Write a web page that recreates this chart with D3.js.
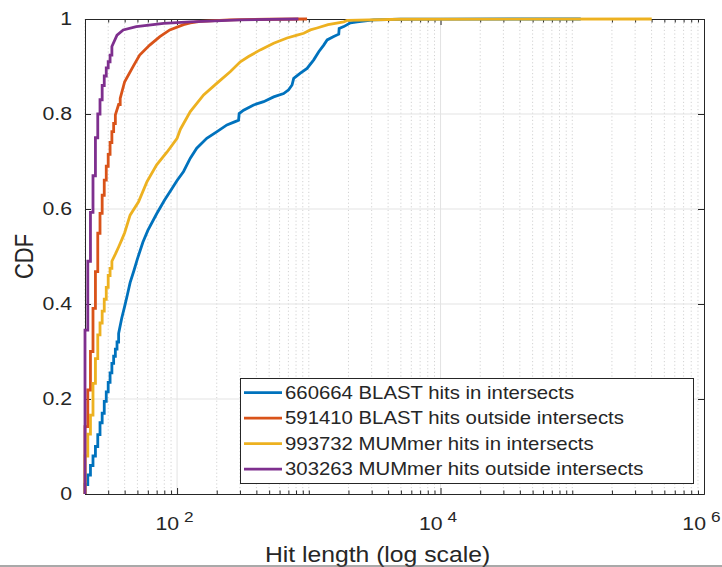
<!DOCTYPE html>
<html>
<head>
<meta charset="utf-8">
<script src="https://cdn.jsdelivr.net/npm/d3@7"></script>
<style>
  body { margin: 0; background: #fff; }
  text { font-family: "Liberation Sans", Arial, sans-serif; fill: #262626; }
</style>
</head>
<body>
<div id="chart"></div>
<script>
// hit lengths (x) and cdf values (y)
var blastInLen = [20,21,22,23,24,25,26,27,28,29,30,31,32,33,34,35,36,38,40,42,44,47,50,55,60,70,80,90,100,
  112,126,141,168,201,239,276,293,296,320,381,454,541,644,703,746,768,863,970,1090,
  1190,1298,1378,1546,1688,1700,1843,2070,2330,3110,4970,10000,116000];
var blastInCdf = [0.02,0.04,0.06,0.08,0.10,0.125,0.15,0.17,0.195,0.215,0.235,0.255,0.275,0.29,0.305,0.32,0.338,
  0.37,0.395,0.42,0.445,0.47,0.495,0.53,0.555,0.59,0.618,0.64,0.66,
  0.679,0.707,0.728,0.749,0.763,0.777,0.784,0.787,0.801,0.808,
  0.819,0.826,0.836,0.843,0.851,0.861,0.875,0.886,0.896,0.914,
  0.931,0.945,0.956,0.963,0.968,0.98,0.984,0.992,0.994,0.998,0.9995,0.9999,1];

var blastOutLen = [20,21,22,23,24,25,26,27,28,29,30,31,32,33,34,36,37,40,47,52,62,74,88,112,126,150,250,500,970];
var blastOutCdf = [0.142,0.219,0.30,0.391,0.468,0.549,0.591,0.629,0.661,0.69,0.715,0.74,0.763,0.78,0.798,
  0.82,0.833,0.868,0.903,0.924,0.945,0.963,0.977,0.988,0.992,0.995,0.998,0.9995,1];

var mumInLen = [20,21,22,23,24,25,26,27,28,29,30,31,32,34,36,38,40,44,51,59,70,84,100,
  106,126,159,201,253,302,349,428,541,684,815,915,1028,1155,1400,1843,1954,5000,401000];
var mumInCdf = [0.08,0.126,0.166,0.233,0.285,0.335,0.36,0.385,0.41,0.435,0.46,0.475,0.49,
  0.505,0.52,0.535,0.55,0.587,0.615,0.657,0.693,0.72,0.749,
  0.768,0.805,0.84,0.865,0.889,0.91,0.921,0.935,0.949,0.96,
  0.966,0.97,0.977,0.981,0.988,0.994,0.997,0.9995,1];

var mumOutLen = [20,21,22,23,24,25,26,27,28,29,30,31,32,35,39,49,79,126,300,834];
var mumOutCdf = [0.345,0.49,0.593,0.67,0.75,0.80,0.83,0.86,0.88,0.897,0.91,0.924,0.942,
  0.966,0.977,0.984,0.991,0.994,0.998,1];

var seriesNames = ["660664 BLAST hits in intersects", "591410 BLAST hits outside intersects",
  "993732 MUMmer hits in intersects", "303263 MUMmer hits outside intersects"];
var seriesColors = ["#0072BD", "#D95319", "#EDB120", "#7E2F8E"];

var yTicks = [0, 0.2, 0.4, 0.6, 0.8, 1];
var xTicks = [100, 10000, 1000000];
var xTickExp = ["2", "4", "6"];

// chart params
var svgWidth = 722;
var svgHeight = 567;
var margin = { top: 19, right: 18, bottom: 73, left: 85 };
var width = svgWidth - margin.left - margin.right;
var height = svgHeight - margin.top - margin.bottom;
var stretch = 1.15; // the figure text is a bit wide

var svg = d3.select("#chart")
  .append("svg")
  .attr("width", svgWidth)
  .attr("height", svgHeight);

var chartGroup = svg.append("g")
  .attr("transform", `translate(${margin.left}, ${margin.top})`);

var xScale = d3.scaleLog().domain([20, 1000000]).range([0, width]);
var yScale = d3.scaleLinear().domain([0, 1]).range([height, 0]);

// minor decades: 20..90, 200..900, 1000.. etc, minus the major ticks
var minorTicks = [];
for (var e = 1; e <= 5; e++) {
  for (var k = 1; k <= 9; k++) {
    var v = k * Math.pow(10, e);
    if (v >= 20 && xTicks.indexOf(v) < 0) minorTicks.push(v);
  }
}

// grid
chartGroup.append("g").selectAll("line")
  .data(minorTicks)
  .enter()
  .append("line")
  .attr("x1", d => xScale(d)).attr("x2", d => xScale(d))
  .attr("y1", 0).attr("y2", height)
  .attr("stroke", "#d2d2d2")
  .attr("stroke-dasharray", "1.2,2.4");

chartGroup.append("g").selectAll("line")
  .data([100, 10000])
  .enter()
  .append("line")
  .attr("x1", d => xScale(d)).attr("x2", d => xScale(d))
  .attr("y1", 0).attr("y2", height)
  .attr("stroke", "#e3e3e3");

chartGroup.append("g").selectAll("line")
  .data([0.2, 0.4, 0.6, 0.8])
  .enter()
  .append("line")
  .attr("x1", 0).attr("x2", width)
  .attr("y1", d => yScale(d)).attr("y2", d => yScale(d))
  .attr("stroke", "#e3e3e3");

// axes (ticks pointing in)
function styleAxis(g) {
  g.selectAll("path, line").attr("stroke", "#262626");
  g.select(".domain").attr("stroke-width", 1);
}

var leftAxis = d3.axisLeft(yScale).tickValues(yTicks).tickSize(-6).tickSizeOuter(0)
  .tickPadding(13 / stretch).tickFormat(d3.format("~g"));
chartGroup.append("g").call(leftAxis).call(styleAxis)
  .selectAll("text")
  .attr("fill", "#262626")
  .style("font-size", "18.5px")
  .style("font-family", "Liberation Sans, Arial, sans-serif")
  .attr("transform", `scale(${stretch},1)`);

chartGroup.append("g")
  .attr("transform", `translate(${width}, 0)`)
  .call(d3.axisRight(yScale).tickValues(yTicks).tickSize(-6).tickSizeOuter(0).tickFormat(""))
  .call(styleAxis);

chartGroup.append("g")
  .attr("transform", `translate(0, ${height})`)
  .call(d3.axisBottom(xScale).tickValues(xTicks).tickSize(-6).tickSizeOuter(0).tickFormat(""))
  .call(styleAxis);
chartGroup.append("g")
  .attr("transform", `translate(0, ${height})`)
  .call(d3.axisBottom(xScale).tickValues(minorTicks).tickSize(-3.5).tickSizeOuter(0).tickFormat(""))
  .call(styleAxis);
chartGroup.append("g")
  .call(d3.axisTop(xScale).tickValues(xTicks).tickSize(-6).tickSizeOuter(0).tickFormat(""))
  .call(styleAxis);
chartGroup.append("g")
  .call(d3.axisTop(xScale).tickValues(minorTicks).tickSize(-3.5).tickSizeOuter(0).tickFormat(""))
  .call(styleAxis);

// x tick labels 10^n
var xLabels = chartGroup.append("g").selectAll("g")
  .data(xTicks)
  .enter()
  .append("g")
  .attr("transform", d => `translate(${xScale(d)}, ${530 - margin.top})`);
xLabels.append("text")
  .attr("transform", `translate(2,0) scale(${stretch},1)`)
  .attr("text-anchor", "end")
  .style("font-size", "18.5px")
  .text("10");
xLabels.append("text")
  .attr("transform", `translate(7,-8) scale(${stretch},1)`)
  .attr("text-anchor", "start")
  .style("font-size", "15px")
  .text((d, i) => xTickExp[i]);

// axis titles
svg.append("text")
  .attr("transform", `translate(377.5, 561.5) scale(${stretch},1)`)
  .attr("text-anchor", "middle")
  .style("font-size", "21.5px")
  .text("Hit length (log scale)");

svg.append("text")
  .attr("transform", `translate(33, ${margin.top + height / 2}) scale(${stretch},1) rotate(-90)`)
  .attr("text-anchor", "middle")
  .style("font-size", "22px")
  .text("CDF");

// cdf lines, steps where lengths are consecutive integers
function toPoints(lens, cdfs) {
  var pts = [[lens[0], 0]];
  for (var i = 0; i < lens.length; i++) {
    if (i > 0 && lens[i] - lens[i - 1] <= 1) pts.push([lens[i], cdfs[i - 1]]);
    pts.push([lens[i], cdfs[i]]);
  }
  return pts;
}

var allSeries = [
  toPoints(blastInLen, blastInCdf),
  toPoints(blastOutLen, blastOutCdf),
  toPoints(mumInLen, mumInCdf),
  toPoints(mumOutLen, mumOutCdf)
];

var line = d3.line()
  .x(d => xScale(d[0]))
  .y(d => yScale(d[1]));

chartGroup.append("g").selectAll("path")
  .data(allSeries)
  .enter()
  .append("path")
  .attr("d", line)
  .attr("fill", "none")
  .attr("stroke", (d, i) => seriesColors[i])
  .attr("stroke-width", 2.8)
  .attr("stroke-linejoin", "miter");

// legend
var legend = svg.append("g");
legend.append("rect")
  .attr("x", 240.5).attr("y", 378.5)
  .attr("width", 453).attr("height", 105)
  .attr("fill", "#fff")
  .attr("stroke", "#262626");

var rows = legend.selectAll(".row")
  .data(seriesNames)
  .enter()
  .append("g")
  .attr("transform", (d, i) => `translate(0, ${392.7 + i * 25.5})`);
rows.append("line")
  .attr("x1", 244).attr("x2", 282)
  .attr("stroke", (d, i) => seriesColors[i])
  .attr("stroke-width", 2.8);
rows.append("text")
  .attr("transform", `translate(285, 0) scale(${stretch},1)`)
  .attr("dy", "0.35em")
  .style("font-size", "17.7px")
  .text(d => d);

// figure edge line at the bottom
svg.append("line")
  .attr("x1", 0).attr("x2", svgWidth)
  .attr("y1", 566).attr("y2", 566)
  .attr("stroke", "#555")
  .attr("stroke-width", 1.2);
</script>
</body>
</html>
